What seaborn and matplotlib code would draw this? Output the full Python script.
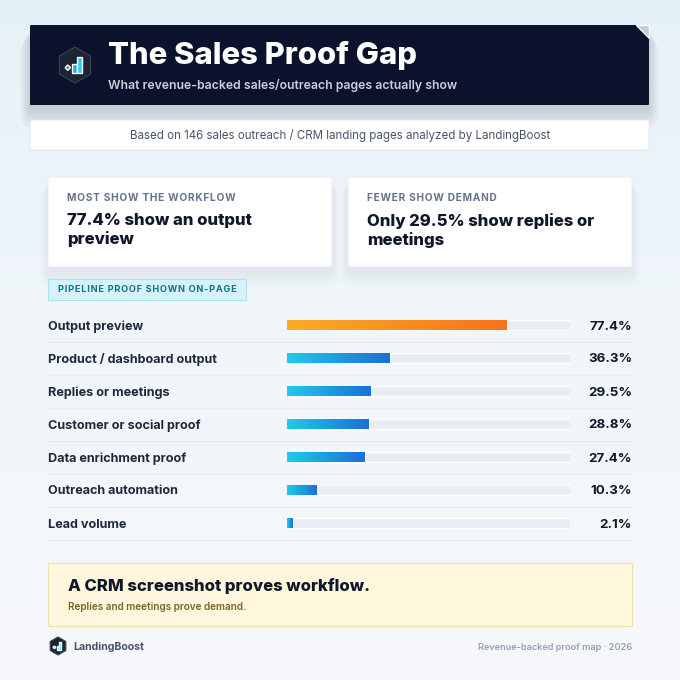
import numpy as np
import pandas as pd
import seaborn as sns
import matplotlib.pyplot as plt
from matplotlib import transforms
from matplotlib.colors import LinearSegmentedColormap
from matplotlib.patches import Rectangle, FancyBboxPatch, RegularPolygon, Polygon

# data
categories = ["Output preview", "Product / dashboard output", "Replies or meetings",
              "Customer or social proof", "Data enrichment proof",
              "Outreach automation", "Lead volume"]
shares = [77.4, 36.3, 29.5, 28.8, 27.4, 10.3, 2.1]
highlight = "Output preview"

title = "The Sales Proof Gap"
subtitle = "What revenue-backed sales/outreach pages actually show"
source_note = "Based on 146 sales outreach / CRM landing pages analyzed by LandingBoost"
card_labels = ["MOST SHOW THE WORKFLOW", "FEWER SHOW DEMAND"]
card_texts = ["77.4% show an output\npreview", "Only 29.5% show replies or\nmeetings"]
section_tag = "PIPELINE PROOF SHOWN ON-PAGE"
callout_head = "A CRM screenshot proves workflow."
callout_sub = "Replies and meetings prove demand."
brand = "LandingBoost"
footer_note = "Revenue-backed proof map \u00b7 2026"

df = pd.DataFrame({"proof": categories, "share": shares})
df["track"] = 100.0

sns.set_theme(style="white")
plt.rcParams["font.family"] = ["Inter", "DejaVu Sans"]

fig = plt.figure(figsize=(6.8, 6.8), dpi=100)

# background layer in pixel coordinates
bg = fig.add_axes([0, 0, 1, 1], zorder=0)
bg.set_xlim(0, 680)
bg.set_ylim(680, 0)
bg.axis("off")
bg_cmap = LinearSegmentedColormap.from_list("bg", ["#e5f1f8", "#f1f6fa", "#f6f8fb"])
bg.imshow(np.linspace(0, 1, 256).reshape(-1, 1), cmap=bg_cmap,
          extent=[0, 680, 680, 0], aspect="auto", zorder=0)


def spaced(s):
    # fake letter spacing with hair spaces
    return "\u200a".join(s)


def card(x, y, w, h, fc, ec="none", lw=0.8, shadow=0, r=2, alpha=0.006):
    for k in range(shadow):
        bg.add_patch(FancyBboxPatch((x - k * 0.6, y + 4 + k * 0.5), w + 1.2 * k, h + k * 0.8,
                                    boxstyle=f"round,pad=0,rounding_size={r + k}",
                                    fc="#1e293b", ec="none", alpha=alpha, zorder=1))
    bg.add_patch(FancyBboxPatch((x, y), w, h, boxstyle=f"round,pad=0,rounding_size={r}",
                                fc=fc, ec=ec, lw=lw, zorder=2))


def logo(cx, cy, s):
    bg.add_patch(RegularPolygon((cx, cy), 6, radius=s, orientation=0,
                                fc="#1c2433", ec="#3a4456", lw=0.8, zorder=4))
    bg.add_patch(Rectangle((cx - 0.15 * s, cy - 0.05 * s), 0.25 * s, 0.5 * s, fc="#2aa7e6", zorder=5))
    bg.add_patch(Rectangle((cx + 0.12 * s, cy - 0.45 * s), 0.25 * s, 0.9 * s, fc="#2fd0ee", zorder=5))
    bg.add_patch(Polygon([(cx - 0.55 * s, cy + 0.15 * s), (cx - 0.4 * s, cy), (cx - 0.25 * s, cy + 0.15 * s),
                          (cx - 0.4 * s, cy + 0.3 * s)], fc="#64748b", zorder=5))


# header
card(30, 25, 619, 80, "#0a132b", shadow=18, r=1, alpha=0.006)
bg.add_patch(Polygon([(636, 25), (649, 25), (649, 38)], fc="#c3cbd6", zorder=3))
logo(75, 65, 18)
bg.text(108, 55, title, color="white", fontsize=22.3, fontweight="heavy", va="center", zorder=5)
bg.text(108, 85, subtitle, color="#c7d0dc", fontsize=8.8, fontweight="semibold", va="center", zorder=5)

# source note
card(30, 120, 619, 30, "white", ec="#e3e9f0")
bg.text(340, 135, source_note, color="#475569", fontsize=8.3, ha="center", va="center", zorder=5)

# stat cards
for x0, lab, txt in zip([48, 348], card_labels, card_texts):
    card(x0, 177, 284, 90, "white", ec="#e8edf2", shadow=14, alpha=0.0035)
    bg.text(x0 + 19, 198, spaced(lab), color="#64748b", fontsize=7.3, fontweight="bold",
            va="center", zorder=5)
    bg.text(x0 + 19, 213, txt, color="#0f172a", fontsize=12, fontweight="heavy", va="top",
            linespacing=1.2, zorder=5)

# section tag
bg.add_patch(Rectangle((48, 279), 198, 21, fc="#d5f2f9", ec="#a8e3f0", lw=0.8, zorder=3))
bg.text(58, 290, spaced(section_tag), color="#0e7490", fontsize=6.6, fontweight="bold",
        va="center", zorder=5)

# bars
ax = fig.add_axes([287 / 680, (680 - 539.5) / 680, 283 / 680, 231 / 680], zorder=2)
ax.patch.set_alpha(0)
sns.barplot(data=df, y="proof", x="track", color="#e8edf5", width=0.3, saturation=1, ax=ax)
n_track = len(ax.patches)
sns.barplot(data=df, y="proof", x="share", color="#1e88e5", width=0.3, saturation=1, ax=ax)

blue_cmap = LinearSegmentedColormap.from_list("blue", ["#1fcbe7", "#1b6fd8"])
orange_cmap = LinearSegmentedColormap.from_list("orange", ["#fbac27", "#f8731a"])
for bar, cat in zip(ax.patches[n_track:], categories):
    x0, y0 = bar.get_x(), bar.get_y()
    w, h = bar.get_width(), bar.get_height()
    cmap = orange_cmap if cat == highlight else blue_cmap
    im = ax.imshow(np.linspace(0, 1, 256).reshape(1, -1), cmap=cmap, aspect="auto",
                   extent=[x0, x0 + w, y0 + h, y0], zorder=3)
    im.set_clip_path(bar)
    bar.set_facecolor("none")

ax.set_xlim(0, 100)
ax.set_ylim(len(categories) - 0.5, -0.5)
ax.set_axis_off()

trans = transforms.blended_transform_factory(ax.transAxes, ax.transData)
left, right = (48 - 287) / 283, (632 - 287) / 283
for i, (cat, val) in enumerate(zip(categories, shares)):
    ax.text(left, i, cat, transform=trans, ha="left", va="center_baseline", fontsize=9.1,
            fontweight="bold", color="#1e293b")
    ax.text(right, i, f"{val}%", transform=trans, ha="right", va="center_baseline", fontsize=9.6,
            fontweight="bold", color="#0f172a")
    ax.plot([left, right], [i + 0.5, i + 0.5], transform=trans, color="#e4e9ef",
            lw=0.8, clip_on=False)

# callout
bg.add_patch(Rectangle((48, 563), 584, 63, fc="#fef6dd", ec="#f1dfa8", lw=0.8, zorder=3))
bg.text(68, 586, callout_head, color="#0f172a", fontsize=12, fontweight="heavy", va="center", zorder=5)
bg.text(68, 607, callout_sub, color="#7b6526", fontsize=7.2, fontweight="semibold", va="center", zorder=5)

# footer
logo(58, 646, 9)
bg.text(73, 647, brand, color="#475569", fontsize=7.6, fontweight="bold", va="center", zorder=5)
bg.text(632, 647, footer_note, color="#94a3b8", fontsize=6.6, fontweight="semibold",
        ha="right", va="center", zorder=5)

fig.savefig("out.png", dpi=100)
